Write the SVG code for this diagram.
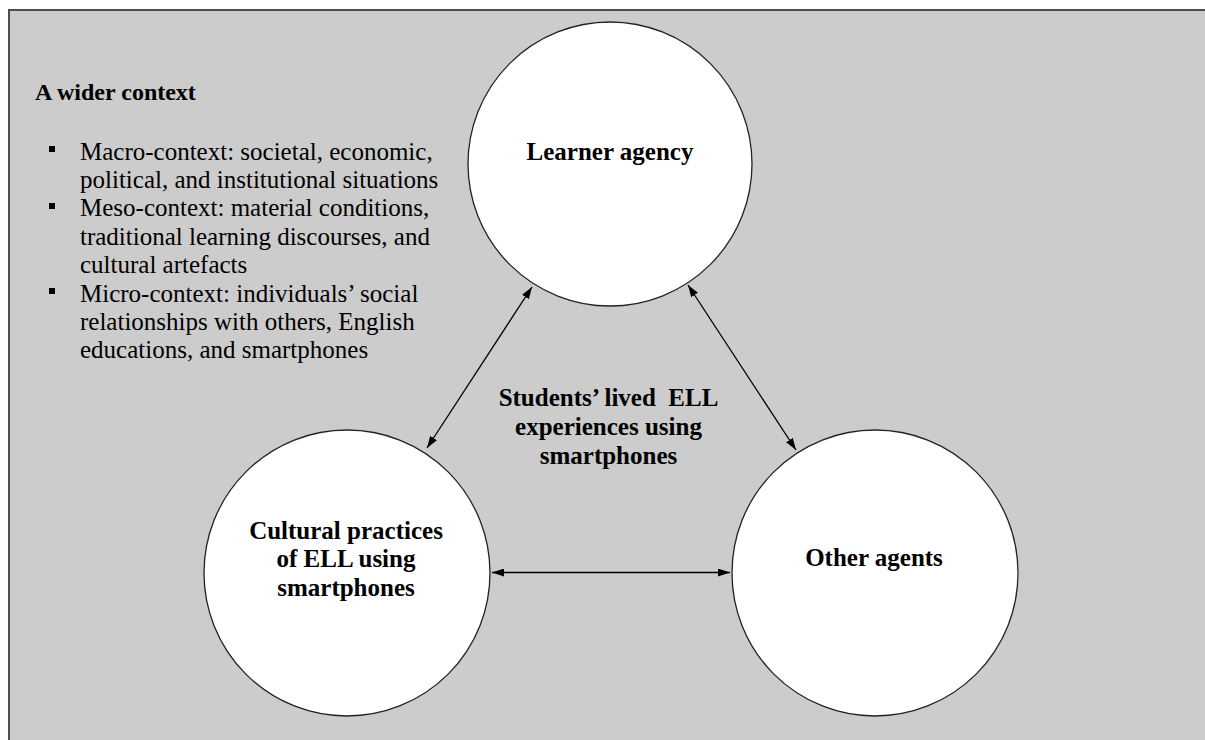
<svg xmlns="http://www.w3.org/2000/svg" width="1205" height="740" viewBox="0 0 1205 740">
  <style>
    .frame { fill: #cccccc; stroke: #4d4d4d; stroke-width: 2; }
    .node circle { fill: #ffffff; stroke: #222222; stroke-width: 1.3; }
    .label { font-family: "Liberation Serif", "Times New Roman", serif; font-size: 25px; font-weight: bold; fill: #000000; text-anchor: middle; }
    .heading { font-family: "Liberation Serif", "Times New Roman", serif; font-size: 24px; font-weight: bold; fill: #000000; }
    .body { font-family: "Liberation Serif", "Times New Roman", serif; font-size: 25px; fill: #000000; }
    .bullet { fill: #000000; }
    .link { fill: none; stroke: #000000; stroke-width: 1.3; marker-start: url(#arrow); marker-end: url(#arrow); }
  </style>
  <defs>
    <marker id="arrow" markerUnits="userSpaceOnUse" markerWidth="12" markerHeight="8" refX="12" refY="4" orient="auto-start-reverse">
      <path d="M0,0 L12,4 L0,8 z" fill="#000000"/>
    </marker>
  </defs>

  <!-- grey background panel; runs past the right and bottom edges -->
  <rect class="frame" x="9" y="10" width="1300" height="800"/>

  <!-- wider context panel -->
  <g id="context">
    <text class="heading" x="35" y="100">A wider context</text>
    <rect class="bullet" x="49" y="146" width="6" height="6"/>
    <rect class="bullet" x="49" y="203" width="6" height="6"/>
    <rect class="bullet" x="49" y="288" width="6" height="6"/>
    <text class="body" x="80" y="159.5">Macro-context: societal, economic,</text>
    <text class="body" x="80" y="187.9">political, and institutional situations</text>
    <text class="body" x="80" y="216.3">Meso-context: material conditions,</text>
    <text class="body" x="80" y="244.7">traditional learning discourses, and</text>
    <text class="body" x="80" y="273.1">cultural artefacts</text>
    <text class="body" x="80" y="301.5">Micro-context: individuals’ social</text>
    <text class="body" x="80" y="329.9">relationships with others, English</text>
    <text class="body" x="80" y="358.3">educations, and smartphones</text>
  </g>

  <!-- connectors -->
  <g id="connectors">
    <path class="link" d="M532,287 L427,448"/>
    <path class="link" d="M688,285 L796,450"/>
    <path class="link" d="M492,572.5 L730,572.5"/>
  </g>

  <g id="learner-agency" class="node">
    <circle cx="610" cy="164" r="142"/>
    <text class="label" x="610" y="159.5">Learner agency</text>
  </g>

  <g id="cultural-practices" class="node">
    <circle cx="347" cy="573" r="143"/>
    <text class="label" x="346" y="538.5">Cultural practices</text>
    <text class="label" x="346" y="567">of ELL using</text>
    <text class="label" x="346" y="595.5">smartphones</text>
  </g>

  <g id="other-agents" class="node">
    <circle cx="875" cy="573" r="143"/>
    <text class="label" x="874" y="566">Other agents</text>
  </g>

  <g id="lived-experiences">
    <text class="label" x="608.5" y="406" xml:space="preserve" style="white-space: pre">Students’ lived  ELL</text>
    <text class="label" x="608.5" y="435">experiences using</text>
    <text class="label" x="608.5" y="463.5">smartphones</text>
  </g>
</svg>
